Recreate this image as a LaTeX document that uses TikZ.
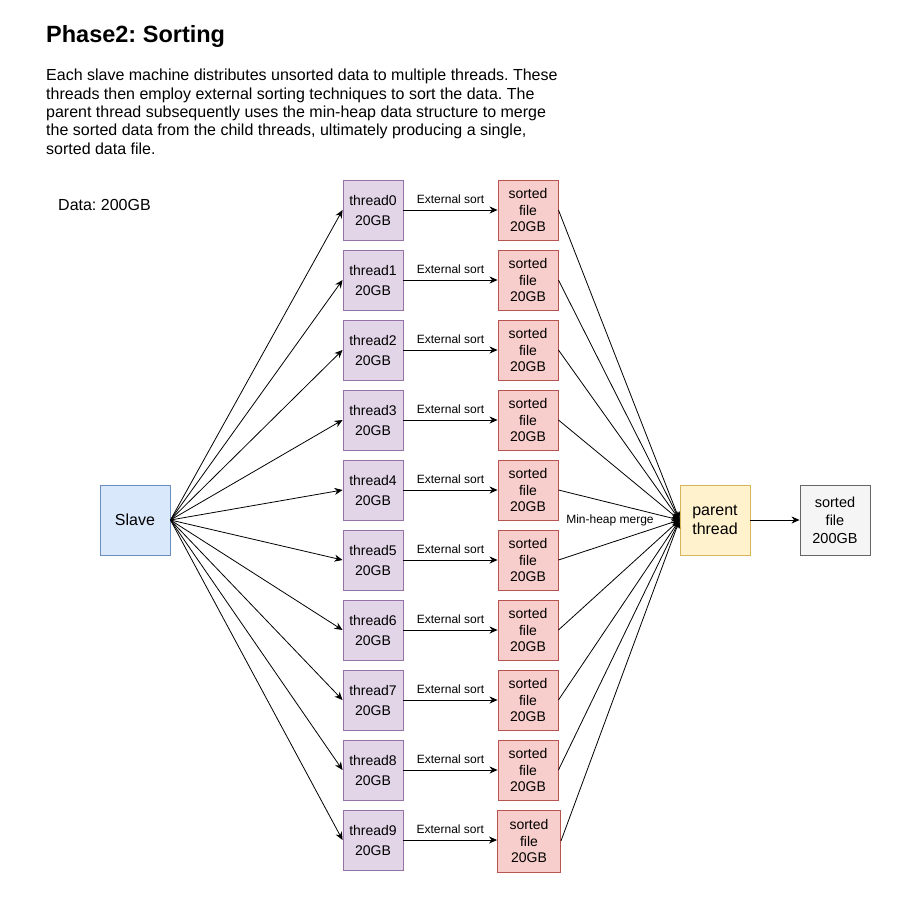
\documentclass[tikz,border=0pt]{standalone}
\usepackage{fontspec}
\setmainfont{Liberation Sans}
\frenchspacing
\usetikzlibrary{arrows.meta}
\definecolor{slavefill}{HTML}{DAE8FC}
\definecolor{slaveline}{HTML}{6C8EBF}
\definecolor{threadfill}{HTML}{E1D5E7}
\definecolor{threadline}{HTML}{9673A6}
\definecolor{filefill}{HTML}{F8CECC}
\definecolor{fileline}{HTML}{B85450}
\definecolor{parentfill}{HTML}{FFF2CC}
\definecolor{parentline}{HTML}{D6B656}
\definecolor{outfill}{HTML}{F5F5F5}
\definecolor{outline}{HTML}{666666}
\tikzstyle{box}=[rectangle,line width=0.9pt,inner sep=0pt,align=center]
\tikzstyle{slave}=[box,draw=slaveline,fill=slavefill,minimum size=70pt,font=\fontsize{16}{19}\selectfont]
\tikzstyle{thread}=[box,draw=threadline,fill=threadfill,minimum size=60pt,font=\fontsize{14}{20}\selectfont]
\tikzstyle{sfile}=[box,draw=fileline,fill=filefill,minimum size=60pt,font=\fontsize{14}{16.5}\selectfont]
\tikzstyle{parent}=[box,draw=parentline,fill=parentfill,minimum size=70pt,font=\fontsize{16}{19}\selectfont]
\tikzstyle{outfile}=[box,draw=outline,fill=outfill,minimum size=70pt,font=\fontsize{14.5}{18}\selectfont]
\tikzstyle{edge}=[draw,line width=0.8pt,-{Stealth[length=8pt,width=7pt,inset=2.5pt]}]
\tikzstyle{elabel}=[font=\fontsize{12}{14}\selectfont,inner sep=1pt]

\begin{document}
\begin{tikzpicture}[x=1pt,y=-1pt]
        \useasboundingbox (0,0) rectangle (900,900);
        \node[anchor=base west,inner sep=0pt,font=\fontsize{23.5}{28}\selectfont\bfseries] (title) at (46,42) {Phase2: Sorting};
        \node[anchor=north west,inner sep=0pt,align=left,font=\fontsize{16}{18.4}\selectfont] (intro) at (46,69) {Each slave machine distributes unsorted data to multiple threads. These\\threads then employ external sorting techniques to sort the data. The\\parent thread subsequently uses the min-heap data structure to merge\\the sorted data from the child threads, ultimately producing a single,\\sorted data file.};
        \node[anchor=base west,inner sep=0pt,font=\fontsize{16}{19}\selectfont] (data) at (58,210.5) {Data: 200GB};
        \node[slave] (slave) at (135,520) {Slave};
        \node[thread] (t0) at (373,210) {thread0\\20GB};
        \node[thread] (t1) at (373,280) {thread1\\20GB};
        \node[thread] (t2) at (373,350) {thread2\\20GB};
        \node[thread] (t3) at (373,420) {thread3\\20GB};
        \node[thread] (t4) at (373,490) {thread4\\20GB};
        \node[thread] (t5) at (373,560) {thread5\\20GB};
        \node[thread] (t6) at (373,630) {thread6\\20GB};
        \node[thread] (t7) at (373,700) {thread7\\20GB};
        \node[thread] (t8) at (373,770) {thread8\\20GB};
        \node[thread] (t9) at (373,840) {thread9\\20GB};
        \node[sfile] (f0) at (528,210) {sorted\\file\\20GB};
        \node[sfile] (f1) at (528,280) {sorted\\file\\20GB};
        \node[sfile] (f2) at (528,350) {sorted\\file\\20GB};
        \node[sfile] (f3) at (528,420) {sorted\\file\\20GB};
        \node[sfile] (f4) at (528,490) {sorted\\file\\20GB};
        \node[sfile] (f5) at (528,560) {sorted\\file\\20GB};
        \node[sfile] (f6) at (528,630) {sorted\\file\\20GB};
        \node[sfile] (f7) at (528,700) {sorted\\file\\20GB};
        \node[sfile] (f8) at (528,770) {sorted\\file\\20GB};
        \node[sfile,minimum width=63pt,minimum height=62pt] (f9) at (529,841) {sorted\\file\\20GB};
        \node[parent] (parent) at (715,520) {parent\\thread};
        \node[outfile] (out) at (835,520) {sorted\\file\\200GB};
        \node[elabel] (merge) at (610,520) {Min-heap merge};
        \path[edge] (slave.east) -- (t0.west);
        \path[edge] (slave.east) -- (t1.west);
        \path[edge] (slave.east) -- (t2.west);
        \path[edge] (slave.east) -- (t3.west);
        \path[edge] (slave.east) -- (t4.west);
        \path[edge] (slave.east) -- (t5.west);
        \path[edge] (slave.east) -- (t6.west);
        \path[edge] (slave.east) -- (t7.west);
        \path[edge] (slave.east) -- (t8.west);
        \path[edge] (slave.east) -- (t9.west);
        \path[edge] (t0) -- node[elabel,above=5pt] {External sort} (f0);
        \path[edge] (t1) -- node[elabel,above=5pt] {External sort} (f1);
        \path[edge] (t2) -- node[elabel,above=5pt] {External sort} (f2);
        \path[edge] (t3) -- node[elabel,above=5pt] {External sort} (f3);
        \path[edge] (t4) -- node[elabel,above=5pt] {External sort} (f4);
        \path[edge] (t5) -- node[elabel,above=5pt] {External sort} (f5);
        \path[edge] (t6) -- node[elabel,above=5pt] {External sort} (f6);
        \path[edge] (t7) -- node[elabel,above=5pt] {External sort} (f7);
        \path[edge] (t8) -- node[elabel,above=5pt] {External sort} (f8);
        \path[edge] (t9.east) -- node[elabel,above=5pt] {External sort} (t9.east -| f9.west);
        \path[edge] (f0.east) -- (parent.west);
        \path[edge] (f1.east) -- (parent.west);
        \path[edge] (f2.east) -- (parent.west);
        \path[edge] (f3.east) -- (parent.west);
        \path[edge] (f4.east) -- (parent.west);
        \path[edge] (f5.east) -- (parent.west);
        \path[edge] (f6.east) -- (parent.west);
        \path[edge] (f7.east) -- (parent.west);
        \path[edge] (f8.east) -- (parent.west);
        \path[edge] (f9.east) -- (parent.west);
        \path[edge] (parent) -- (out);
    \end{tikzpicture}
\end{document}
